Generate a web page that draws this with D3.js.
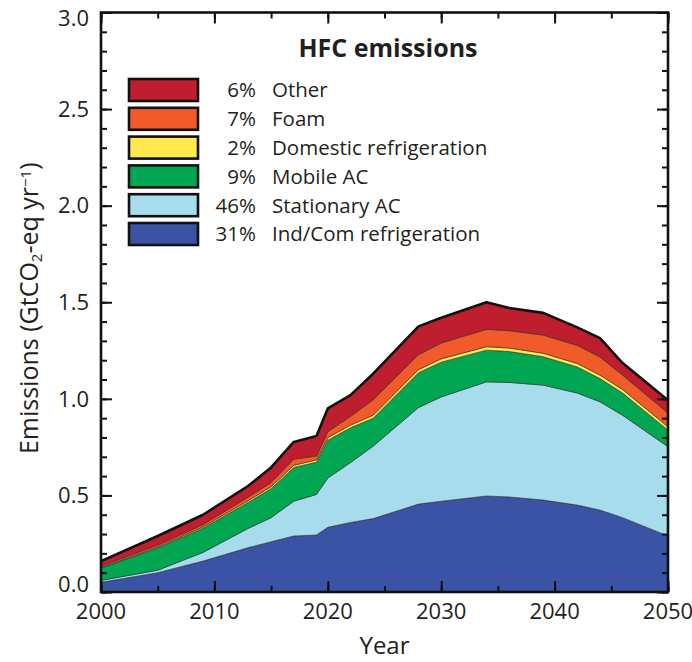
<!DOCTYPE html>
<html>
<head>
<meta charset="utf-8">
<script src="https://cdn.jsdelivr.net/npm/d3@7"></script>
<style>
  body { margin: 0; background: #fff; }
  svg text { font-family: "Open Sans", sans-serif; fill: #231f20; }
</style>
</head>
<body>
<div id="chart"></div>
<script>
// years with a data point
const years = [2000, 2005, 2009, 2013, 2015, 2017, 2019, 2020, 2022, 2024, 2028, 2030, 2034, 2036, 2039, 2042, 2044, 2046, 2050];

// emissions per sector, GtCO2-eq/yr
const indCom     = [0.050, 0.100, 0.160, 0.230, 0.260, 0.290, 0.295, 0.335, 0.360, 0.380, 0.455, 0.470, 0.497, 0.492, 0.476, 0.450, 0.424, 0.385, 0.290];
const stationary = [0.010, 0.013, 0.045, 0.100, 0.125, 0.180, 0.210, 0.255, 0.310, 0.375, 0.500, 0.540, 0.591, 0.593, 0.595, 0.580, 0.561, 0.530, 0.462];
const mobile     = [0.064, 0.115, 0.125, 0.135, 0.150, 0.175, 0.167, 0.196, 0.180, 0.145, 0.180, 0.180, 0.164, 0.160, 0.147, 0.135, 0.120, 0.115, 0.086];
const domestic   = [0.003, 0.005, 0.007, 0.009, 0.010, 0.011, 0.012, 0.013, 0.014, 0.015, 0.016, 0.017, 0.018, 0.018, 0.018, 0.018, 0.018, 0.018, 0.017];
const foam       = [0.008, 0.010, 0.012, 0.018, 0.022, 0.032, 0.020, 0.031, 0.045, 0.080, 0.078, 0.082, 0.090, 0.090, 0.094, 0.094, 0.094, 0.075, 0.071];
const other      = [0.025, 0.047, 0.051, 0.058, 0.078, 0.089, 0.103, 0.120, 0.110, 0.135, 0.146, 0.131, 0.140, 0.117, 0.115, 0.093, 0.097, 0.062, 0.067];

// legend, top to bottom
const legendNames  = ["Other", "Foam", "Domestic refrigeration", "Mobile AC", "Stationary AC", "Ind/Com refrigeration"];
const legendShares = ["6%", "7%", "2%", "9%", "46%", "31%"];

const xTicks = [2000, 2010, 2020, 2030, 2040, 2050];
const yTicks = [0, 0.5, 1.0, 1.5, 2.0, 2.5, 3.0];

const keys = ["indCom", "stationary", "mobile", "domestic", "foam", "other"];
const colors = {
  indCom: "#3a53a4", stationary: "#a6dcec", mobile: "#00a651",
  domestic: "#ffe94f", foam: "#f15a29", other: "#be1e2d"
};
const legendKeys = ["other", "foam", "domestic", "mobile", "stationary", "indCom"];

const table = years.map((yr, i) => ({
  year: yr,
  indCom: indCom[i], stationary: stationary[i], mobile: mobile[i],
  domestic: domestic[i], foam: foam[i], other: other[i]
}));

const W = 692, H = 662;
const margin = { top: 12.5, right: 24, bottom: 70, left: 101 };
const width = W - margin.left - margin.right;
const height = H - margin.top - margin.bottom;

const svg = d3.select("#chart").append("svg")
  .attr("width", W)
  .attr("height", H);

const g = svg.append("g")
  .attr("transform", `translate(${margin.left},${margin.top})`);

const x = d3.scaleLinear().domain([2000, 2050]).range([0, width]);
const y = d3.scaleLinear().domain([0, 3]).range([height, 0]);

const series = d3.stack().keys(keys)(table);

const area = d3.area()
  .x(d => x(d.data.year))
  .y0(d => y(d[0]))
  .y1(d => y(d[1]));

g.selectAll("path.layer")
  .data(series)
  .join("path")
  .attr("class", "layer")
  .attr("d", area)
  .attr("fill", d => colors[d.key])
  .attr("stroke", "#2b2b2b")
  .attr("stroke-width", 0.6)
  .attr("stroke-linejoin", "round");

// heavy outline on the total
const topLine = d3.line()
  .x(d => x(d.data.year))
  .y(d => y(d[1]));

g.append("path")
  .datum(series[series.length - 1])
  .attr("d", topLine)
  .attr("fill", "none")
  .attr("stroke", "#111")
  .attr("stroke-width", 2.6)
  .attr("stroke-linejoin", "round");

// inward ticks on all four sides
const xMinor = d3.range(2000, 2051, 5);
const yMinor = d3.range(0, 31).map(d => d / 10);

function tickAxis(axis, vals, len) {
  return axis.tickValues(vals).tickSize(-len).tickFormat("");
}

g.append("g").attr("transform", `translate(0,${height})`)
  .call(tickAxis(d3.axisBottom(x), xMinor, 6));
g.append("g").attr("transform", `translate(0,${height})`)
  .call(tickAxis(d3.axisBottom(x), xTicks, 11));
g.append("g")
  .call(tickAxis(d3.axisTop(x), xMinor, 6));
g.append("g")
  .call(tickAxis(d3.axisTop(x), xTicks, 11));
g.append("g")
  .call(tickAxis(d3.axisLeft(y), yMinor, 6));
g.append("g")
  .call(tickAxis(d3.axisLeft(y), yTicks, 11));
g.append("g").attr("transform", `translate(${width},0)`)
  .call(tickAxis(d3.axisRight(y), yMinor, 6));
g.append("g").attr("transform", `translate(${width},0)`)
  .call(tickAxis(d3.axisRight(y), yTicks, 11));

g.selectAll(".domain").remove();
g.selectAll(".tick line").attr("stroke", "#111").attr("stroke-width", 2);

// tick labels
g.selectAll("text.xlab")
  .data(xTicks)
  .join("text")
  .attr("class", "xlab")
  .attr("x", d => x(d))
  .attr("y", height + 27)
  .attr("text-anchor", "middle")
  .style("font-size", "22px")
  .text(d => d);

// end labels are nudged inside the frame, as in the original
g.selectAll("text.ylab")
  .data(yTicks)
  .join("text")
  .attr("class", "ylab")
  .attr("x", -12)
  .attr("y", d => y(d) + (d === 3 ? 6 : d === 0 ? -8 : 0))
  .attr("dy", "0.35em")
  .attr("text-anchor", "end")
  .style("font-size", "22px")
  .text(d3.format(".1f"));

// frame
g.append("rect")
  .attr("width", width)
  .attr("height", height)
  .attr("fill", "none")
  .attr("stroke", "#111")
  .attr("stroke-width", 2.6);

// axis titles
g.append("text")
  .attr("x", width / 2)
  .attr("y", height + 62)
  .attr("text-anchor", "middle")
  .style("font-size", "24px")
  .text("Year");

const yTitle = g.append("text")
  .attr("transform", `translate(-63,${height / 2 + 6}) rotate(-90)`)
  .attr("text-anchor", "middle")
  .style("font-size", "25px");
yTitle.append("tspan").text("Emissions (GtCO");
yTitle.append("tspan").attr("baseline-shift", "-25%").style("font-size", "15px").text("2");
yTitle.append("tspan").text("-eq yr");
yTitle.append("tspan").attr("baseline-shift", "45%").style("font-size", "15px").text("−1");
yTitle.append("tspan").text(")");

// title and legend
svg.append("text")
  .attr("x", 388)
  .attr("y", 57)
  .attr("text-anchor", "middle")
  .style("font-size", "25px")
  .style("font-weight", "bold")
  .text("HFC emissions");

const legend = svg.append("g").attr("transform", "translate(129,79)");
const row = legend.selectAll("g")
  .data(legendKeys)
  .join("g")
  .attr("transform", (d, i) => `translate(0,${i * 28.8})`);

row.append("rect")
  .attr("width", 69)
  .attr("height", 22)
  .attr("fill", d => colors[d])
  .attr("stroke", "#111")
  .attr("stroke-width", 2.6);

row.append("text")
  .attr("x", 127)
  .attr("y", 11)
  .attr("dy", "0.36em")
  .attr("text-anchor", "end")
  .style("font-size", "20.5px")
  .text((d, i) => legendShares[i]);

row.append("text")
  .attr("x", 143)
  .attr("y", 11)
  .attr("dy", "0.36em")
  .style("font-size", "20.5px")
  .text((d, i) => legendNames[i]);
</script>
</body>
</html>
